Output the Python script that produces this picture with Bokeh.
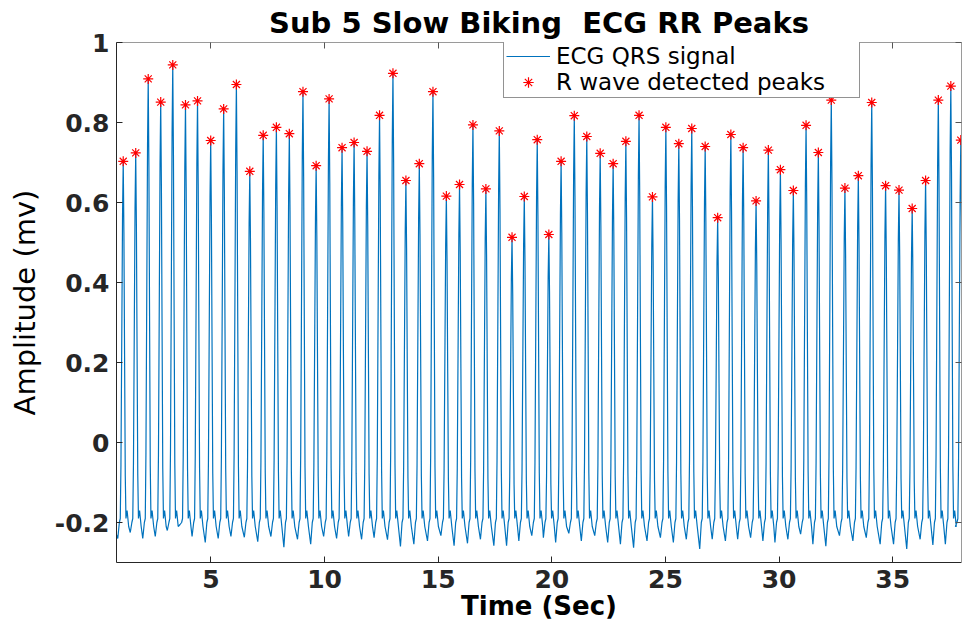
import numpy as np
from bokeh.plotting import figure
from bokeh.models import Range1d, FixedTicker, LinearAxis, Legend, LegendItem, PrintfTickFormatter
from bokeh.embed import file_html
from bokeh.resources import INLINE

# ---- data ----
peak_time = [1.14, 1.69, 2.24, 2.79, 3.32, 3.88, 4.41, 4.99, 5.56, 6.12, 6.71, 7.30, 7.88, 8.45,
             9.05, 9.63, 10.20, 10.77, 11.30, 11.87, 12.42, 13.01, 13.58, 14.17, 14.77, 15.36,
             15.94, 16.53, 17.10, 17.69, 18.25, 18.79, 19.36, 19.87, 20.41, 20.99, 21.54, 22.13,
             22.70, 23.26, 23.84, 24.43, 25.02, 25.59, 26.16, 26.75, 27.30, 27.88, 28.42, 28.99,
             29.53, 30.06, 30.63, 31.19, 31.73, 32.30, 32.90, 33.49, 34.08, 34.69, 35.28, 35.86,
             36.45, 37.01, 37.56, 38.00]
peak_amp = [0.703, 0.724, 0.909, 0.851, 0.944, 0.844, 0.854, 0.755, 0.834, 0.895, 0.678, 0.768,
            0.788, 0.772, 0.877, 0.692, 0.859, 0.737, 0.750, 0.728, 0.818, 0.923, 0.655, 0.697,
            0.877, 0.616, 0.645, 0.794, 0.634, 0.779, 0.513, 0.615, 0.757, 0.520, 0.703, 0.817,
            0.765, 0.723, 0.697, 0.753, 0.818, 0.614, 0.788, 0.747, 0.785, 0.740, 0.562, 0.770,
            0.737, 0.604, 0.731, 0.682, 0.630, 0.793, 0.725, 0.856, 0.636, 0.667, 0.850, 0.642,
            0.631, 0.585, 0.655, 0.856, 0.891, 0.756]
trough_amp = [-0.240, -0.225, -0.240, -0.235, -0.220, -0.205, -0.235, -0.250, -0.240, -0.235,
              -0.237, -0.248, -0.235, -0.262, -0.242, -0.254, -0.235, -0.240, -0.235, -0.242,
              -0.238, -0.243, -0.260, -0.254, -0.246, -0.233, -0.258, -0.252, -0.242, -0.258,
              -0.258, -0.246, -0.233, -0.238, -0.250, -0.227, -0.246, -0.233, -0.250, -0.254,
              -0.263, -0.246, -0.238, -0.250, -0.242, -0.266, -0.242, -0.246, -0.242, -0.238,
              -0.246, -0.250, -0.242, -0.229, -0.254, -0.259, -0.233, -0.246, -0.238, -0.254,
              -0.254, -0.266, -0.242, -0.256, -0.254, -0.210]

# beat shape (offsets in s from each R peak)
foot_level = -0.19
up_offset = [-0.13, -0.10, -0.06, -0.03]
up_frac = [0.0, 0.15, 0.55, 0.85]
down_offset = [0.03, 0.06, 0.09, 0.12]
down_frac = [0.80, 0.45, 0.12, 0.0]
after_offset = [0.17, 0.24]
after_level = [-0.17, -0.21]
trough_offset = -0.24
pre_offset = -0.17
pre_level = -0.20
start_time = 0.84
start_level = -0.23

xs, ys = [start_time], [start_level]
for i, (t, a) in enumerate(zip(peak_time, peak_amp)):
    xs += [t + trough_offset, t + pre_offset]
    ys += [trough_amp[i], pre_level]
    for o, f in zip(up_offset, up_frac):
        xs.append(t + o); ys.append(foot_level + f * (a - foot_level))
    xs.append(t); ys.append(a)
    for o, f in zip(down_offset, down_frac):
        xs.append(t + o); ys.append(foot_level + f * (a - foot_level))
    if i < len(peak_time) - 1:
        for o, lv in zip(after_offset, after_level):
            xs.append(t + o); ys.append(lv)

FONT = "DejaVu Sans"
TXT = "#262626"

p = figure(width=962, height=632, output_backend="svg", toolbar_location=None,
           x_range=Range1d(0.844, 38.03), y_range=Range1d(-0.3, 1.0),
           title="Sub 5 Slow Biking\u00a0 ECG RR Peaks")
p.min_border_left = 116
p.min_border_right = 1
p.min_border_top = 41
p.min_border_bottom = 70
p.background_fill_color = "white"
p.border_fill_color = "white"
p.outline_line_color = None
p.grid.visible = False

p.title.text_font = FONT
p.title.text_font_size = "29px"
p.title.text_font_style = "bold"
p.title.text_color = "black"
p.title.align = "center"
p.title.standoff = 6

sig = p.line(xs, ys, line_color="#0072BD", line_width=1.2)
pk = p.scatter(peak_time, peak_amp, marker="asterisk", size=10, line_color="red", line_width=1.2)

xticks = [5, 10, 15, 20, 25, 30, 35]
yticks = [-0.2, 0, 0.2, 0.4, 0.6, 0.8, 1.0]

for ax in p.xaxis:
    ax.ticker = FixedTicker(ticks=xticks)
    ax.axis_label = "Time (Sec)"
    ax.axis_label_text_font_style = "bold"
    ax.axis_label_text_font_size = "26px"
    ax.axis_label_standoff = 0
for ax in p.yaxis:
    ax.ticker = FixedTicker(ticks=yticks)
    ax.formatter = PrintfTickFormatter(format="%g")
    ax.axis_label = "Amplitude (mv)"
    ax.axis_label_text_font_style = "normal"
    ax.axis_label_text_font_size = "29px"
    ax.axis_label_standoff = 10
for ax in list(p.xaxis) + list(p.yaxis):
    ax.axis_label_text_font = FONT
    ax.axis_label_text_color = "black"
    ax.major_label_text_font = FONT
    ax.major_label_text_font_size = "25px"
    ax.major_label_text_font_style = "bold"
    ax.major_label_text_color = TXT
    ax.major_tick_in = 6
    ax.major_tick_out = 0
    ax.minor_tick_line_color = None
    ax.axis_line_color = TXT
    ax.major_tick_line_color = TXT
    ax.major_label_standoff = 7

top = LinearAxis(ticker=FixedTicker(ticks=xticks), major_label_text_font_size="0px",
                 major_tick_in=6, major_tick_out=0, minor_tick_line_color=None,
                 axis_line_color="#9a9a9a", major_tick_line_color="#555555", major_label_standoff=0)
right = LinearAxis(ticker=FixedTicker(ticks=yticks), major_label_text_font_size="0px",
                   major_tick_in=6, major_tick_out=0, minor_tick_line_color=None,
                   axis_line_color="#9a9a9a", major_tick_line_color="#555555", major_label_standoff=0)
p.add_layout(top, "above")
p.add_layout(right, "right")

legend = Legend(items=[LegendItem(label="ECG QRS signal", renderers=[sig]),
                       LegendItem(label="R wave detected peaks", renderers=[pk])],
                location=(387, 464), margin=0, padding=2, spacing=0,
                glyph_width=44, glyph_height=26, label_height=26, label_standoff=6,
                label_width=301,
                label_text_font=FONT, label_text_font_size="23px", label_text_color="black",
                border_line_color=TXT, border_line_width=1, background_fill_color="white",
                background_fill_alpha=1.0)
p.add_layout(legend, "center")

open("out.html", "w").write(file_html(p, INLINE))
